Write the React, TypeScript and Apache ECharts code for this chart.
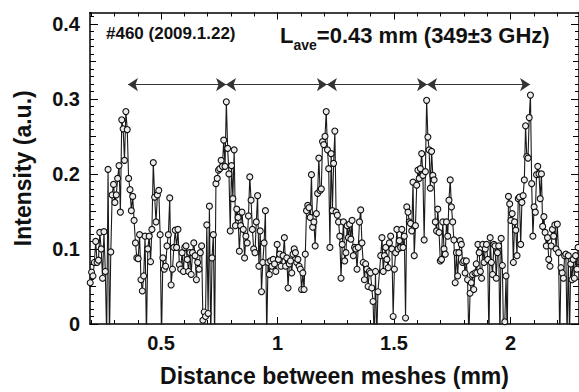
import React, { useEffect, useRef } from "react";
import * as echarts from "echarts";

// Axis ranges (mm, a.u.)
const xMin = 0.195;
const xMax = 2.294;
const yMin = 0;
const yMax = 0.415;

const xMajorTicks = [0.5, 1, 1.5, 2];
const xMinorTicks = [0.2, 0.3, 0.4, 0.6, 0.7, 0.8, 0.9, 1.1, 1.2, 1.3, 1.4, 1.6, 1.7, 1.8, 1.9, 2.1, 2.2];
const yMajorTicks = [0, 0.1, 0.2, 0.3, 0.4];
const yMidTicks = [0.05, 0.15, 0.25, 0.35];
const yMinorTicks = [
  0.01, 0.02, 0.03, 0.04, 0.06, 0.07, 0.08, 0.09,
  0.11, 0.12, 0.13, 0.14, 0.16, 0.17, 0.18, 0.19,
  0.21, 0.22, 0.23, 0.24, 0.26, 0.27, 0.28, 0.29,
  0.31, 0.32, 0.33, 0.34, 0.36, 0.37, 0.38, 0.39, 0.41,
];

// Period arrows (boundaries in mm) and their height
const periodBoundsMm = [0.358, 0.779, 1.212, 1.642, 2.084];
const arrowLevel = 0.319;

// Measured intensity, uniformly sampled within each scan stretch
const stretchStartMm = [0.196, 0.607, 1.024, 1.443, 1.855];
const stretchEndMm = [0.602, 1.015, 1.431, 1.853, 2.29];

const intensity1 = [
  0.055, 0.069, 0.064, 0.082, 0.110, 0.082, 0.085, 0.122, 0.100, 0.061,
  0.123, 0.070, -0.02, 0.206, -0.02, 0.096, 0.172, 0.186, 0.162, 0.172,
  0.194, 0.211, 0.149, 0.272, 0.260, 0.218, 0.283, 0.259, 0.194, 0.179,
  0.151, 0.170, 0.138, 0.108, 0.088, 0.087, 0.119, 0.059, 0.044, 0.064,
  0.117, -0.02, 0.100, 0.117, 0.083, 0.126, 0.215, 0.169, 0.136, 0.172,
  0.178, 0.119, -0.02, 0.088, 0.073, 0.077, 0.104, 0.119, 0.168, 0.052,
  0.073, 0.102, 0.125, 0.102, 0.126, 0.079, 0.073, 0.095, 0.070, 0.102,
];
const intensity2 = [
  0.104, 0.086, 0.070, 0.095, 0.066, 0.095, 0.108, 0.091, 0.059, 0.082,
  0.073, 0.095, 0.104, 0.005, 0.016, 0.010, 0.132, 0.014, 0.157, -0.02,
  0.088, 0.119, -0.02, 0.187, 0.194, 0.205, 0.207, 0.218, 0.210, 0.245,
  0.210, 0.296, 0.234, 0.200, 0.124, 0.211, 0.167, 0.232, 0.131, 0.153,
  0.142, 0.097, 0.131, 0.149, 0.126, 0.088, 0.117, 0.108, 0.144, 0.196,
  0.165, 0.126, 0.100, 0.095, 0.136, 0.171, 0.077, 0.124, 0.043, 0.082,
  0.108, 0.151, -0.02, 0.082, 0.066, 0.084, 0.077, 0.086, 0.080, 0.070,
  0.106, 0.086, 0.093, 0.077,
];
const intensity3 = [
  0.091, 0.115, 0.077, 0.088, 0.048, 0.080, 0.084, 0.068, 0.093, 0.100,
  0.095, 0.082, 0.086, 0.077, 0.073, 0.046, 0.068, 0.046, 0.093, 0.151,
  0.158, 0.155, 0.142, 0.199, 0.129, 0.136, 0.104, 0.147, 0.174, 0.221,
  0.178, 0.180, 0.243, 0.239, 0.250, 0.283, 0.232, 0.207, 0.102, 0.227,
  0.151, 0.214, 0.257, 0.149, 0.145, 0.136, 0.117, 0.061, 0.106, 0.136,
  0.084, 0.095, 0.131, 0.115, 0.133, 0.113, 0.138, 0.091, 0.102, 0.100,
  0.073, 0.102, 0.136, 0.152, 0.108, 0.082, 0.059, 0.080, 0.073, 0.050,
  0.070, 0.068, 0.048, 0.030, -0.02, 0.070, -0.02, 0.043,
];
const intensity4 = [
  0.091, 0.115, 0.070, 0.091, 0.102, 0.086, 0.075, 0.108, 0.117, 0.100,
  0.010, 0.073, 0.095, 0.126, 0.100, 0.111, 0.102, 0.126, 0.102, 0.117,
  0.008, 0.156, 0.149, 0.136, 0.134, 0.124, 0.189, 0.091, 0.131, 0.185,
  0.205, 0.194, 0.207, 0.227, 0.198, 0.112, 0.203, 0.298, 0.249, 0.232,
  0.181, 0.230, 0.198, 0.192, 0.136, 0.124, 0.153, 0.122, 0.084, 0.086,
  0.136, 0.100, 0.093, 0.136, 0.117, 0.165, 0.192, 0.156, 0.136, 0.112,
  0.055, 0.095, 0.064, 0.095, 0.111, 0.106, 0.082, 0.084, 0.068, 0.084,
  0.059, -0.02, 0.041, 0.055, 0.066, 0.046, 0.068, 0.080,
];
const intensity5 = [
  0.068, 0.106, 0.095, 0.070, 0.061, 0.106, 0.082, 0.100, 0.106, 0.086,
  -0.02, 0.115, 0.082, 0.066, 0.106, 0.104, 0.061, 0.095, 0.104, -0.02,
  0.114, 0.078, -0.02, 0.003, 0.064, -0.02, 0.170, 0.160, 0.138, 0.147,
  0.082, 0.136, 0.125, 0.091, 0.167, 0.169, 0.106, 0.162, 0.171, 0.192,
  0.264, 0.223, 0.221, 0.275, 0.305, 0.187, 0.117, 0.156, 0.149, 0.199,
  0.210, 0.200, 0.167, 0.200, 0.130, 0.143, 0.122, 0.104, 0.115, 0.086,
  0.077, 0.104, 0.126, 0.117, 0.132, 0.100, 0.133, 0.095, -0.02, 0.075,
  0.068, 0.061, 0.091, 0.093, -0.02, 0.091, -0.02, 0.080, 0.059, 0.086,
  0.061, 0.091, 0.073, 0.102,
];
const intensityStretches = [intensity1, intensity2, intensity3, intensity4, intensity5];

const FONT = "'Liberation Sans', Arial, Helvetica, sans-serif";

export default function App() {
  const ref = useRef<HTMLDivElement>(null);

  useEffect(() => {
    if (!ref.current) return;
    const chart = echarts.init(ref.current, undefined, { renderer: "svg" });

    const points: number[][] = [];
    intensityStretches.forEach((vals, k) => {
      const a = stretchStartMm[k];
      const b = stretchEndMm[k];
      vals.forEach((v, i) => {
        points.push([a + (i * (b - a)) / (vals.length - 1), v]);
      });
    });

    const arrowData = periodBoundsMm.slice(0, -1).map((x0, i) => [
      { coord: [x0, arrowLevel] },
      { coord: [periodBoundsMm[i + 1], arrowLevel] },
    ]);

    const lineStyle = { color: "#000", width: 1.5 };
    const tickStyle = { color: "#000", width: 1 };

    const xBase = {
      type: "value",
      min: xMin,
      max: xMax,
      splitLine: { show: false },
      axisLabel: { show: false },
      axisLine: { show: false, onZero: false },
      axisTick: { show: false },
    };
    const yBase = {
      type: "value",
      min: yMin,
      max: yMax,
      splitLine: { show: false },
      axisLabel: { show: false },
      axisLine: { show: false, onZero: false },
      axisTick: { show: false },
    };

    const xAxes: any[] = [];
    const yAxes: any[] = [];
    (["bottom", "top"] as const).forEach((pos) => {
      xAxes.push({
        ...xBase,
        position: pos,
        axisLine: { show: true, onZero: false, lineStyle },
        axisTick: { show: true, inside: true, length: 7, customValues: xMajorTicks, lineStyle: tickStyle },
        axisLabel:
          pos === "bottom"
            ? {
                show: true,
                customValues: xMajorTicks,
                fontSize: 20,
                fontWeight: "bold",
                fontFamily: FONT,
                color: "#111",
                margin: 9,
                formatter: (v: number) => String(v),
              }
            : { show: false },
        ...(pos === "bottom"
          ? {
              name: "Distance between meshes (mm)",
              nameLocation: "middle",
              nameGap: 40,
              nameTextStyle: { fontSize: 23, fontWeight: "bold", fontFamily: FONT, color: "#111" },
            }
          : {}),
      });
      xAxes.push({
        ...xBase,
        position: pos,
        axisTick: { show: true, inside: true, length: 4, customValues: xMinorTicks, lineStyle: tickStyle },
      });
    });
    (["left", "right"] as const).forEach((pos) => {
      yAxes.push({
        ...yBase,
        position: pos,
        axisLine: { show: true, onZero: false, lineStyle },
        axisTick: { show: true, inside: true, length: 8, customValues: yMajorTicks, lineStyle: tickStyle },
        axisLabel:
          pos === "left"
            ? {
                show: true,
                customValues: yMajorTicks,
                fontSize: 20,
                fontWeight: "bold",
                fontFamily: FONT,
                color: "#111",
                margin: 10,
                formatter: (v: number) => (v === 0 ? "0" : v.toFixed(1)),
              }
            : { show: false },
        ...(pos === "left"
          ? {
              name: "Intensity (a.u.)",
              nameLocation: "middle",
              nameRotate: 90,
              nameGap: 56,
              nameTextStyle: { fontSize: 23, fontWeight: "bold", fontFamily: FONT, color: "#111" },
            }
          : {}),
      });
      yAxes.push({
        ...yBase,
        position: pos,
        axisTick: { show: true, inside: true, length: 6, customValues: yMidTicks, lineStyle: tickStyle },
      });
      yAxes.push({
        ...yBase,
        position: pos,
        axisTick: { show: true, inside: true, length: 4, customValues: yMinorTicks, lineStyle: tickStyle },
      });
    });

    chart.setOption({
      animation: false,
      backgroundColor: "#fff",
      grid: { left: 90, right: 0, top: 12.5, bottom: 67.5, containLabel: false },
      xAxis: xAxes,
      yAxis: yAxes,
      graphic: [
        {
          type: "text",
          x: 106,
          y: 33,
          style: {
            text: "#460 (2009.1.22)",
            fontSize: 17,
            fontWeight: "bold",
            fontFamily: FONT,
            fill: "#111",
            verticalAlign: "middle",
          },
        },
        {
          type: "text",
          x: 280,
          y: 28,
          style: {
            text: "{m|L}{s|ave}{m|=0.43 mm (349±3 GHz)}",
            verticalAlign: "top",
            rich: {
              m: {
                fontSize: 22,
                lineHeight: 24,
                fontWeight: "bold",
                fontFamily: FONT,
                fill: "#111",
                padding: [0, 0, 6, 0],
                verticalAlign: "bottom",
              },
              s: {
                fontSize: 14,
                lineHeight: 14,
                fontWeight: "bold",
                fontFamily: FONT,
                fill: "#111",
                verticalAlign: "bottom",
              },
            },
          },
        },
      ],
      series: [
        {
          type: "line",
          xAxisIndex: 0,
          yAxisIndex: 0,
          data: points,
          clip: true,
          symbol: "circle",
          symbolSize: 6,
          showAllSymbol: true,
          lineStyle: { color: "#1a1a1a", width: 1.1 },
          itemStyle: { color: "#ececec", borderColor: "#111", borderWidth: 1.1 },
          markLine: {
            silent: true,
            symbol: ["arrow", "arrow"],
            symbolSize: 10,
            label: { show: false },
            lineStyle: { color: "#333", width: 1, type: "solid" },
            data: arrowData,
          },
        },
      ],
    });

    return () => chart.dispose();
  }, []);

  return (
    <div
      ref={ref}
      style={{ position: "absolute", left: 0, top: 0, width: 579, height: 392 }}
    />
  );
}
